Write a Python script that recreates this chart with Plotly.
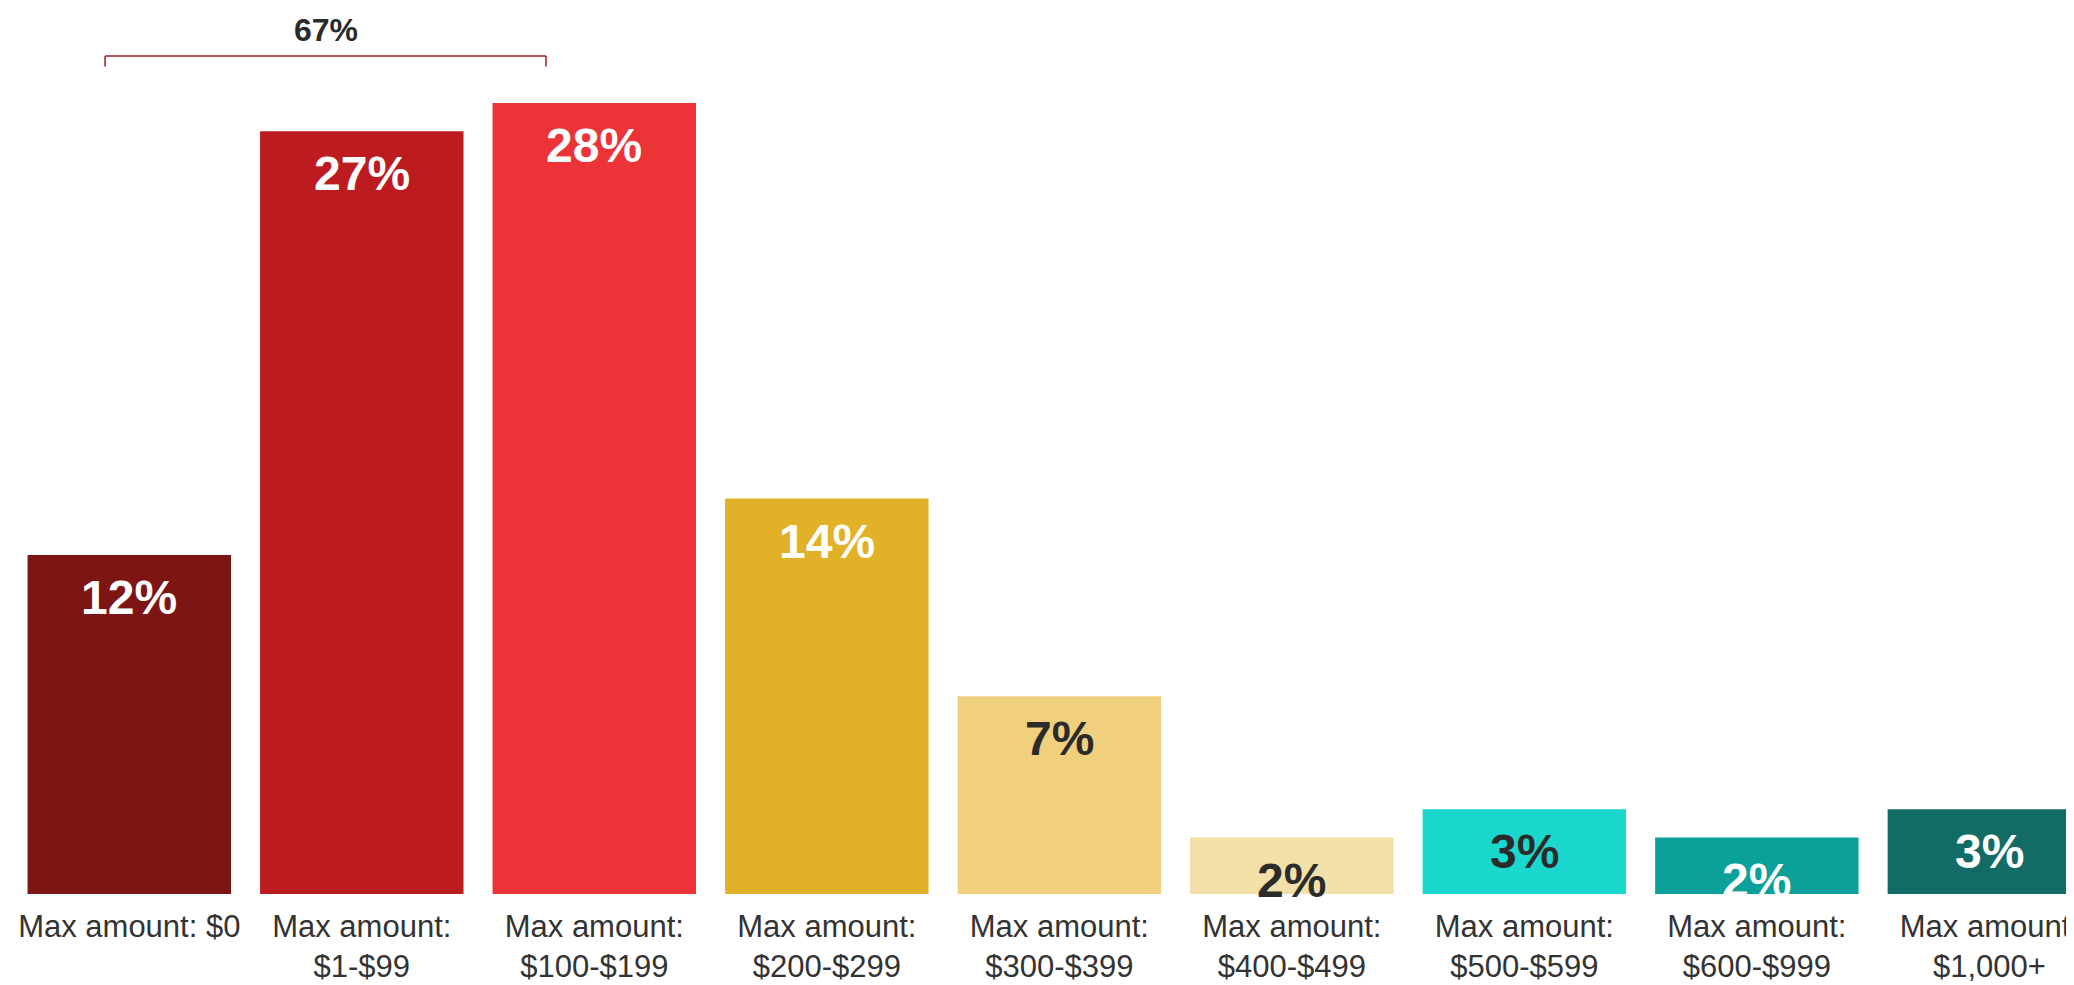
import plotly.graph_objects as go

categories = ["Max amount: $0", "Max amount:<br>$1-$99", "Max amount:<br>$100-$199",
              "Max amount:<br>$200-$299", "Max amount:<br>$300-$399", "Max amount:<br>$400-$499",
              "Max amount:<br>$500-$599", "Max amount:<br>$600-$999", "Max amount:<br>$1,000+"]
values = [12, 27, 28, 14, 7, 2, 3, 2, 3]
value_labels = ["12%", "27%", "28%", "14%", "7%", "2%", "3%", "2%", "3%"]
bar_colors = ["#7E1515", "#BC1B1F", "#EB3338", "#E1B228", "#F0D07D",
              "#F3E0A8", "#1BD8CE", "#0BA19A", "#136B66"]
label_colors = ["#FFFFFF", "#FFFFFF", "#FFFFFF", "#FFFFFF", "#2B2B2B",
                "#2B2B2B", "#2B2B2B", "#FFFFFF", "#FFFFFF"]
group_total_label = "67%"

FONT = "Arial, Liberation Sans, sans-serif"
x_idx = list(range(len(categories)))

fig = go.Figure(go.Bar(
    x=x_idx, y=values, marker=dict(color=bar_colors, line=dict(width=0)),
    hoverinfo="skip",
))

for xi, v, t, c in zip(x_idx, values, value_labels, label_colors):
    fig.add_annotation(x=xi, y=v, xref="x", yref="y", text=f"<b>{t}</b>",
                       showarrow=False, yanchor="top", yshift=-14,
                       font=dict(family=FONT, size=48, color=c))

# bracket over first three bars
bx0, bx1, by, bt = -0.104, 1.792, 29.67, 29.3
fig.add_shape(type="line", x0=bx0, x1=bx1, y0=by, y1=by, xref="x", yref="y",
              line=dict(color="#9B1B1F", width=1.5))
fig.add_shape(type="line", x0=bx0, x1=bx0, y0=by, y1=bt, xref="x", yref="y",
              line=dict(color="#9B1B1F", width=1.5))
fig.add_shape(type="line", x0=bx1, x1=bx1, y0=by, y1=bt, xref="x", yref="y",
              line=dict(color="#9B1B1F", width=1.5))
fig.add_annotation(x=(bx0 + bx1) / 2, y=30.6, xref="x", yref="y",
                   text=f"<b>{group_total_label}</b>", showarrow=False,
                   font=dict(family=FONT, size=32, color="#2B2B2B"))

fig.update_layout(
    width=2066, height=977,
    margin=dict(l=0, r=0, t=0, b=91),
    paper_bgcolor="white", plot_bgcolor="white",
    bargap=0.125, showlegend=False,
    font=dict(family=FONT),
)
fig.update_xaxes(range=[-0.5216, 8.364], tickmode="array", tickvals=x_idx, ticktext=categories,
                 showgrid=False, zeroline=False, showline=False, ticks="",
                 ticklabelstandoff=11, ticklabeloverflow="allow",
                 tickfont=dict(family=FONT, size=31, color="#333333"), fixedrange=True,
                 automargin=False)
fig.update_yaxes(range=[0, 31.367], visible=False, showgrid=False, zeroline=False, fixedrange=True)

fig.write_html("out.html", config={"displayModeBar": False})
